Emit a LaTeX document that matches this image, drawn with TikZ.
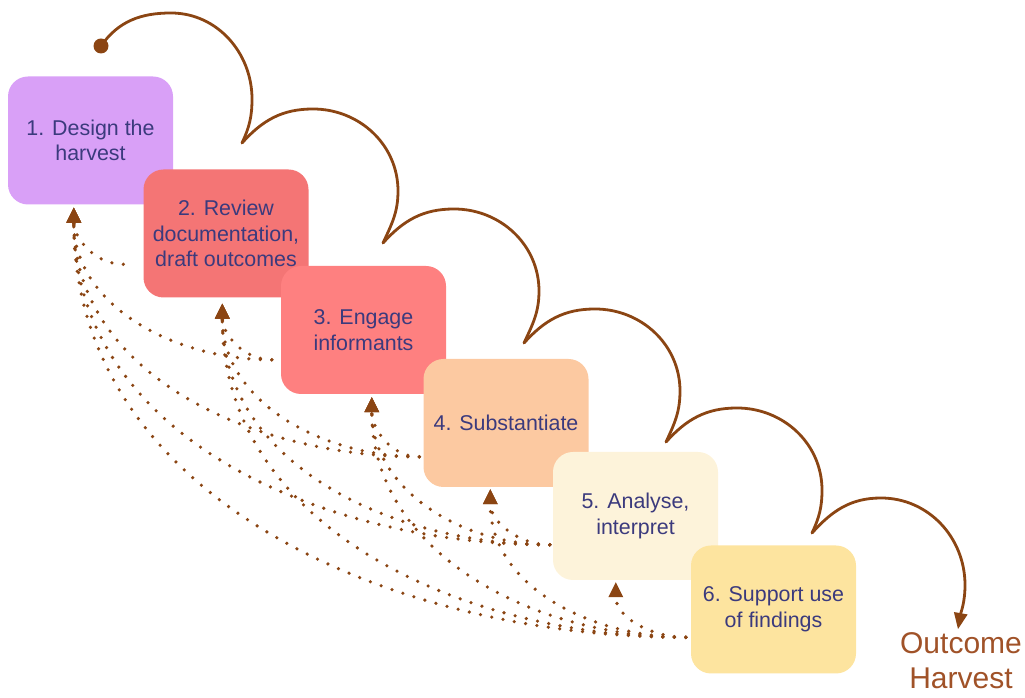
\documentclass[tikz,border=0pt]{standalone}
\usepackage{fontspec}
\setmainfont{Liberation Sans}
\usetikzlibrary{arrows.meta,calc}
\pgfdeclarelayer{bg}
\pgfsetlayers{bg,main}
\definecolor{brn}{RGB}{139,69,19}
\definecolor{txt}{RGB}{59,58,125}
\definecolor{ohc}{RGB}{160,82,40}
\definecolor{cA}{RGB}{217,160,247}
\definecolor{cB}{RGB}{244,117,117}
\definecolor{cC}{RGB}{254,128,128}
\definecolor{cD}{RGB}{252,201,161}
\definecolor{cE}{RGB}{253,243,218}
\definecolor{cF}{RGB}{253,228,159}
\begin{document}
\begin{tikzpicture}[x=1pt,y=1pt,
  stepbox/.style={rounded corners=20pt, minimum width=165pt, minimum height=128pt,
    inner sep=0pt, align=center, text=txt, font=\fontsize{21.4}{25.5}\selectfont},
  fb/.style={draw=brn, line width=3.6pt, line cap=round, dash pattern=on 0pt off 11.5pt,
    -{Triangle[length=15pt,width=15pt,line width=0pt]}, out=180, in=-90},
  flow/.style={draw=brn, line width=2.8pt, line cap=round},
  finaltip/.style={-{Triangle[length=16pt,width=14pt,line width=0pt]}}]
\useasboundingbox (0,0) rectangle (1025,698);

% process boxes
\node[stepbox, fill=cA] (b1) at (90.5,557.5) {1. Design the\\harvest};
\node[stepbox, fill=cB] (b2) at (226,464.5) {2. Review\\documentation,\\draft outcomes};
\node[stepbox, fill=cC] (b3) at (363.5,368) {3. Engage\\informants};
\node[stepbox, fill=cD] (b4) at (506,275) {4. Substantiate};
\node[stepbox, fill=cE] (b5) at (635.5,182) {5. Analyse,\\interpret};
\node[stepbox, fill=cF] (b6) at (773.5,88.5) {6. Support use\\of findings};

% feedback targets (below each box) and sources (left of each box)
\coordinate (t1) at ($(b1.south west)+(66,-3)$);
\coordinate (t2) at ($(b2.south west)+(79,-6)$);
\coordinate (t3) at ($(b3.south west)+(91,-3)$);
\coordinate (t4) at ($(b4.south west)+(67,-2)$);
\coordinate (t5) at ($(b5.south west)+(63,-2)$);
\coordinate (s2) at ($(b2.north west)+(-20,-95)$);
\coordinate (s3) at ($(b3.north west)+(-9,-94)$);
\coordinate (s4) at ($(b4.north west)+(-4,-98)$);
\coordinate (s5) at ($(b5.north west)+(-3,-93)$);
\coordinate (s6) at ($(b6.north west)+(-5,-92)$);

\begin{pgfonlayer}{bg}
\draw[fb] (s2) to (t1);
\draw[fb] (s3) to (t1);
\draw[fb] (s3) to (t2);
\draw[fb] (s4) to (t1);
\draw[fb] (s4) to (t2);
\draw[fb] (s4) to (t3);
\draw[fb] (s5) to (t1);
\draw[fb] (s5) to (t2);
\draw[fb] (s5) to (t3);
\draw[fb] (s5) to (t4);
\draw[fb] (s6) to (t1);
\draw[fb] (s6) to (t2);
\draw[fb] (s6) to (t3);
\draw[fb] (s6) to (t4);
\draw[fb] (s6) to (t5);
\end{pgfonlayer}

% top flow of arcs
\node[circle, fill=brn, minimum size=15pt, inner sep=0pt] (start) at (101,652) {};
\coordinate (p1) at (242,555);
\coordinate (p2) at (383,455);
\coordinate (p3) at (524,355);
\coordinate (p4) at (666,256);
\coordinate (p5) at (812,165);
\node[text=ohc, align=center, font=\fontsize{30}{35}\selectfont] (oh) at (961,37) {Outcome\\Harvest};
\coordinate (p6) at (958,69);

\draw[flow] (start.center) to[out=55,in=180] ($(start.center)+(70,33)$)
  to[out=0,in=90] ($(start.center)+(151,-53)$) to[out=-90,in=65] (p1);
\foreach \a/\b in {p1/p2,p2/p3,p3/p4,p4/p5}{
  \draw[flow] (\a) to[out=48,in=180] ($(\a)+(71,34)$)
    to[out=0,in=90] ($(\a)+(156,-48)$) to[out=-90,in=65] (\b);
}
\draw[flow, finaltip] (p5) to[out=48,in=180] ($(p5)+(69,35)$)
  to[out=0,in=90] ($(p5)+(153,-52)$) to[out=-90,in=80] (p6);
\end{tikzpicture}
\end{document}
